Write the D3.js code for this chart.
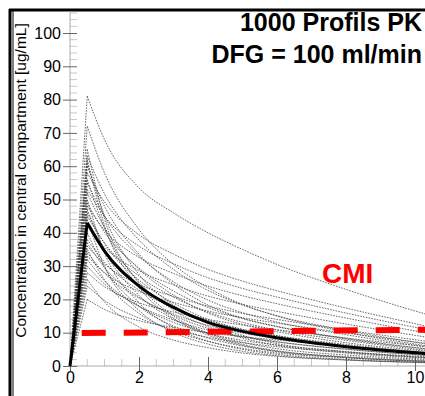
<!DOCTYPE html>
<html><head><meta charset="utf-8">
<script src="https://cdn.jsdelivr.net/npm/d3@7"></script>
<style>body{margin:0;background:#fff}svg{display:block}</style>
</head><body><svg id="c" width="425" height="396"></svg>
<script>
// ---- data ----
const times = [0.5, 1, 2, 3, 4, 5, 6, 8, 10.5];
const meanValues = [43, 34.5, 24, 17.6, 13.1, 10.4, 8.5, 5.8, 3.6];
const profiles = [
  [81, 68, 53.5, 46, 40, 35, 30.5, 23, 15],
  [72, 58, 41, 30.5, 23.5, 18.5, 15, 10.2, 5.8],
  [65, 44.2, 24.7, 15, 9.8, 6.5, 4.6, 2.6, 1.3],
  [63, 51.7, 37.8, 29, 22.7, 18.3, 15.1, 10.7, 6.3],
  [62, 42.2, 23.6, 14.3, 9.3, 6.2, 4.3, 2.5, 1.2],
  [61, 45.1, 27.5, 18.3, 12.8, 9.2, 6.7, 4.3, 2.4],
  [60, 48, 33.6, 24.6, 18.3, 14.4, 11.9, 8.1, 5],
  [58, 49.3, 39.4, 33.6, 29, 25.5, 22.6, 17.4, 11.6],
  [56, 41.4, 25.2, 16.8, 11.8, 8.4, 6.2, 3.9, 2.2],
  [55, 45.1, 33, 25.3, 19.8, 16, 13.2, 9.4, 5.5],
  [53, 45, 36, 30.7, 26.5, 23.3, 20.7, 15.9, 10.6],
  [52, 41.6, 29.1, 21.3, 15.9, 12.5, 10.3, 7, 4.3],
  [50, 34, 19, 11.5, 7.5, 5, 3.5, 2, 1],
  [49, 40.2, 29.4, 22.5, 17.6, 14.2, 11.8, 8.3, 4.9],
  [48, 40.8, 32.6, 27.8, 24, 21.1, 18.7, 14.4, 9.6],
  [47, 34.8, 21.2, 14.1, 9.9, 7.1, 5.2, 3.3, 1.9],
  [46, 36.8, 25.8, 18.9, 14, 11, 9.1, 6.2, 3.8],
  [45, 36.9, 27, 20.7, 16.2, 13.1, 10.8, 7.7, 4.5],
  [44, 29.9, 16.7, 10.1, 6.6, 4.4, 3.1, 1.8, 0.9],
  [42, 35.7, 28.6, 24.4, 21, 18.5, 16.4, 12.6, 8.4],
  [40, 29.6, 18, 12, 8.4, 6, 4.4, 2.8, 1.6],
  [38, 31.2, 22.8, 17.5, 13.7, 11, 9.1, 6.5, 3.8],
  [37, 29.6, 20.7, 15.2, 11.3, 8.9, 7.3, 5, 3.1],
  [36, 30.6, 24.5, 20.9, 18, 15.8, 14, 10.8, 7.2],
  [35, 25.9, 15.8, 10.5, 7.4, 5.3, 3.9, 2.5, 1.4],
  [34, 27.9, 20.4, 15.6, 12.2, 9.9, 8.2, 5.8, 3.4],
  [33, 28, 22.4, 19.1, 16.5, 14.5, 12.9, 9.9, 6.6],
  [32, 25.6, 17.9, 13.1, 9.8, 7.7, 6.3, 4.3, 2.7],
  [30, 24.6, 18, 13.8, 10.8, 8.7, 7.2, 5.1, 3],
  [28, 23.8, 19, 16.2, 14, 12.3, 10.9, 8.4, 5.6],
  [26, 19.2, 11.7, 7.8, 5.5, 3.9, 2.9, 1.8, 1],
  [24, 19.7, 14.4, 11, 8.6, 7, 5.8, 4.1, 2.4],
  [20, 17, 13.6, 11.6, 10, 8.8, 7.8, 6, 4]
];
const cmiTimes = [0.34, 10.3];
const cmiValues = [9.9, 10.9];
const xTicks = [0, 2, 4, 6, 8, 10];
const yTicks = [0, 10, 20, 30, 40, 50, 60, 70, 80, 90, 100];
const titleLines = ["1000 Profils PK", "DFG = 100 ml/min"];
const yLabel = "Concentration in central compartment [ug/mL]";
const cmiLabel = "CMI";

// ---- chart ----
const svg = d3.select("#c");
const font = "'Liberation Sans', Arial, sans-serif";
const x = d3.scaleLinear().domain([0, 10]).range([70, 415]);
const y = d3.scaleLinear().domain([0, 100]).range([366, 33]);

// frame
svg.append("line").attr("x1", 9).attr("x2", 425).attr("y1", 10).attr("y2", 10)
  .attr("stroke", "#000").attr("stroke-width", 3);
svg.append("line").attr("x1", 10).attr("x2", 10).attr("y1", 9).attr("y2", 396)
  .attr("stroke", "#000").attr("stroke-width", 3);
svg.append("line").attr("x1", 13).attr("x2", 13).attr("y1", 11).attr("y2", 396)
  .attr("stroke", "#000").attr("stroke-width", 1);

// minor ticks
const yMinor = d3.range(0, 107, 2).filter(v => v % 10 !== 0);
svg.append("g").selectAll("line").data(yMinor).join("line")
  .attr("x1", x(0)).attr("x2", x(0) + 7).attr("y1", d => y(d)).attr("y2", d => y(d))
  .attr("stroke", "#c8c8c8").attr("stroke-width", 1);
const xMinor = d3.range(0.5, 10.4, 0.5).filter(v => v % 2 !== 0);
svg.append("g").selectAll("line").data(xMinor).join("line")
  .attr("x1", d => x(d)).attr("x2", d => x(d)).attr("y1", y(0)).attr("y2", y(0) - 7)
  .attr("stroke", "#c8c8c8").attr("stroke-width", 1);

// axis lines
svg.append("line").attr("x1", x(0)).attr("x2", x(0)).attr("y1", 11).attr("y2", y(0))
  .attr("stroke", "#aaa").attr("stroke-width", 1);
svg.append("line").attr("x1", x(0)).attr("x2", 425).attr("y1", y(0)).attr("y2", y(0))
  .attr("stroke", "#aaa").attr("stroke-width", 1);

// y axis
const yAxis = svg.append("g").attr("transform", `translate(${x(0) + 7},0)`)
  .call(d3.axisLeft(y).tickValues(yTicks).tickSize(14).tickPadding(2));
yAxis.select(".domain").remove();
yAxis.selectAll(".tick line").attr("stroke", "#666");
yAxis.selectAll(".tick text").attr("font-family", font).attr("font-size", 16).attr("fill", "#000");

// x axis
const xAxis = svg.append("g").attr("transform", `translate(0,${y(0) - 9})`)
  .call(d3.axisBottom(x).tickValues(xTicks).tickSize(14).tickPadding(1));
xAxis.select(".domain").remove();
xAxis.selectAll(".tick line").attr("stroke", "#666");
xAxis.selectAll(".tick text").attr("font-family", font).attr("font-size", 16).attr("fill", "#000");

// profiles
const line = d3.line().x(d => x(d[0])).y(d => y(d[1])).curve(d3.curveMonotoneX);
const gP = svg.append("g").attr("fill", "none").attr("stroke", "#444")
  .attr("stroke-width", 0.8).attr("stroke-dasharray", "1.6,1.2");
profiles.forEach(p => {
  gP.append("path").attr("d", d3.line().x(d => x(d[0])).y(d => y(d[1]))([[0, 0], [times[0], p[0]]]));
  gP.append("path").attr("d", line(times.map((t, i) => [t, p[i]])));
});

// red CMI dashed line
svg.append("path")
  .attr("d", d3.line().x(d => x(d[0])).y(d => y(d[1]))(cmiTimes.map((t, i) => [t, cmiValues[i]])))
  .attr("stroke", "#ff0000").attr("stroke-width", 6).attr("stroke-dasharray", "24,18").attr("fill", "none");

// mean curve
const gM = svg.append("g").attr("fill", "none").attr("stroke", "#000").attr("stroke-width", 3)
  .attr("stroke-linejoin", "miter");
gM.append("path").attr("d", d3.line().x(d => x(d[0])).y(d => y(d[1]))([[0, 0], [times[0], meanValues[0]], [times[1], meanValues[1]]].slice(0, 2)));
gM.append("path").attr("d", line(times.map((t, i) => [t, meanValues[i]])));

// texts
svg.append("g").selectAll("text").data(titleLines).join("text")
  .attr("x", 422).attr("y", (d, i) => 31 + i * 32).attr("text-anchor", "end")
  .attr("font-family", font).attr("font-weight", "bold").attr("font-size", 25).attr("fill", "#000")
  .text(d => d);
svg.append("text").attr("x", 322).attr("y", 283).attr("font-family", font)
  .attr("font-weight", "bold").attr("font-size", 28).attr("fill", "#ff0000").text(cmiLabel);
svg.append("text").attr("transform", "translate(26,180.5) rotate(-90)").attr("text-anchor", "middle")
  .attr("font-family", font).attr("font-size", 15.5).attr("fill", "#000").text(yLabel);
</script></body></html>
